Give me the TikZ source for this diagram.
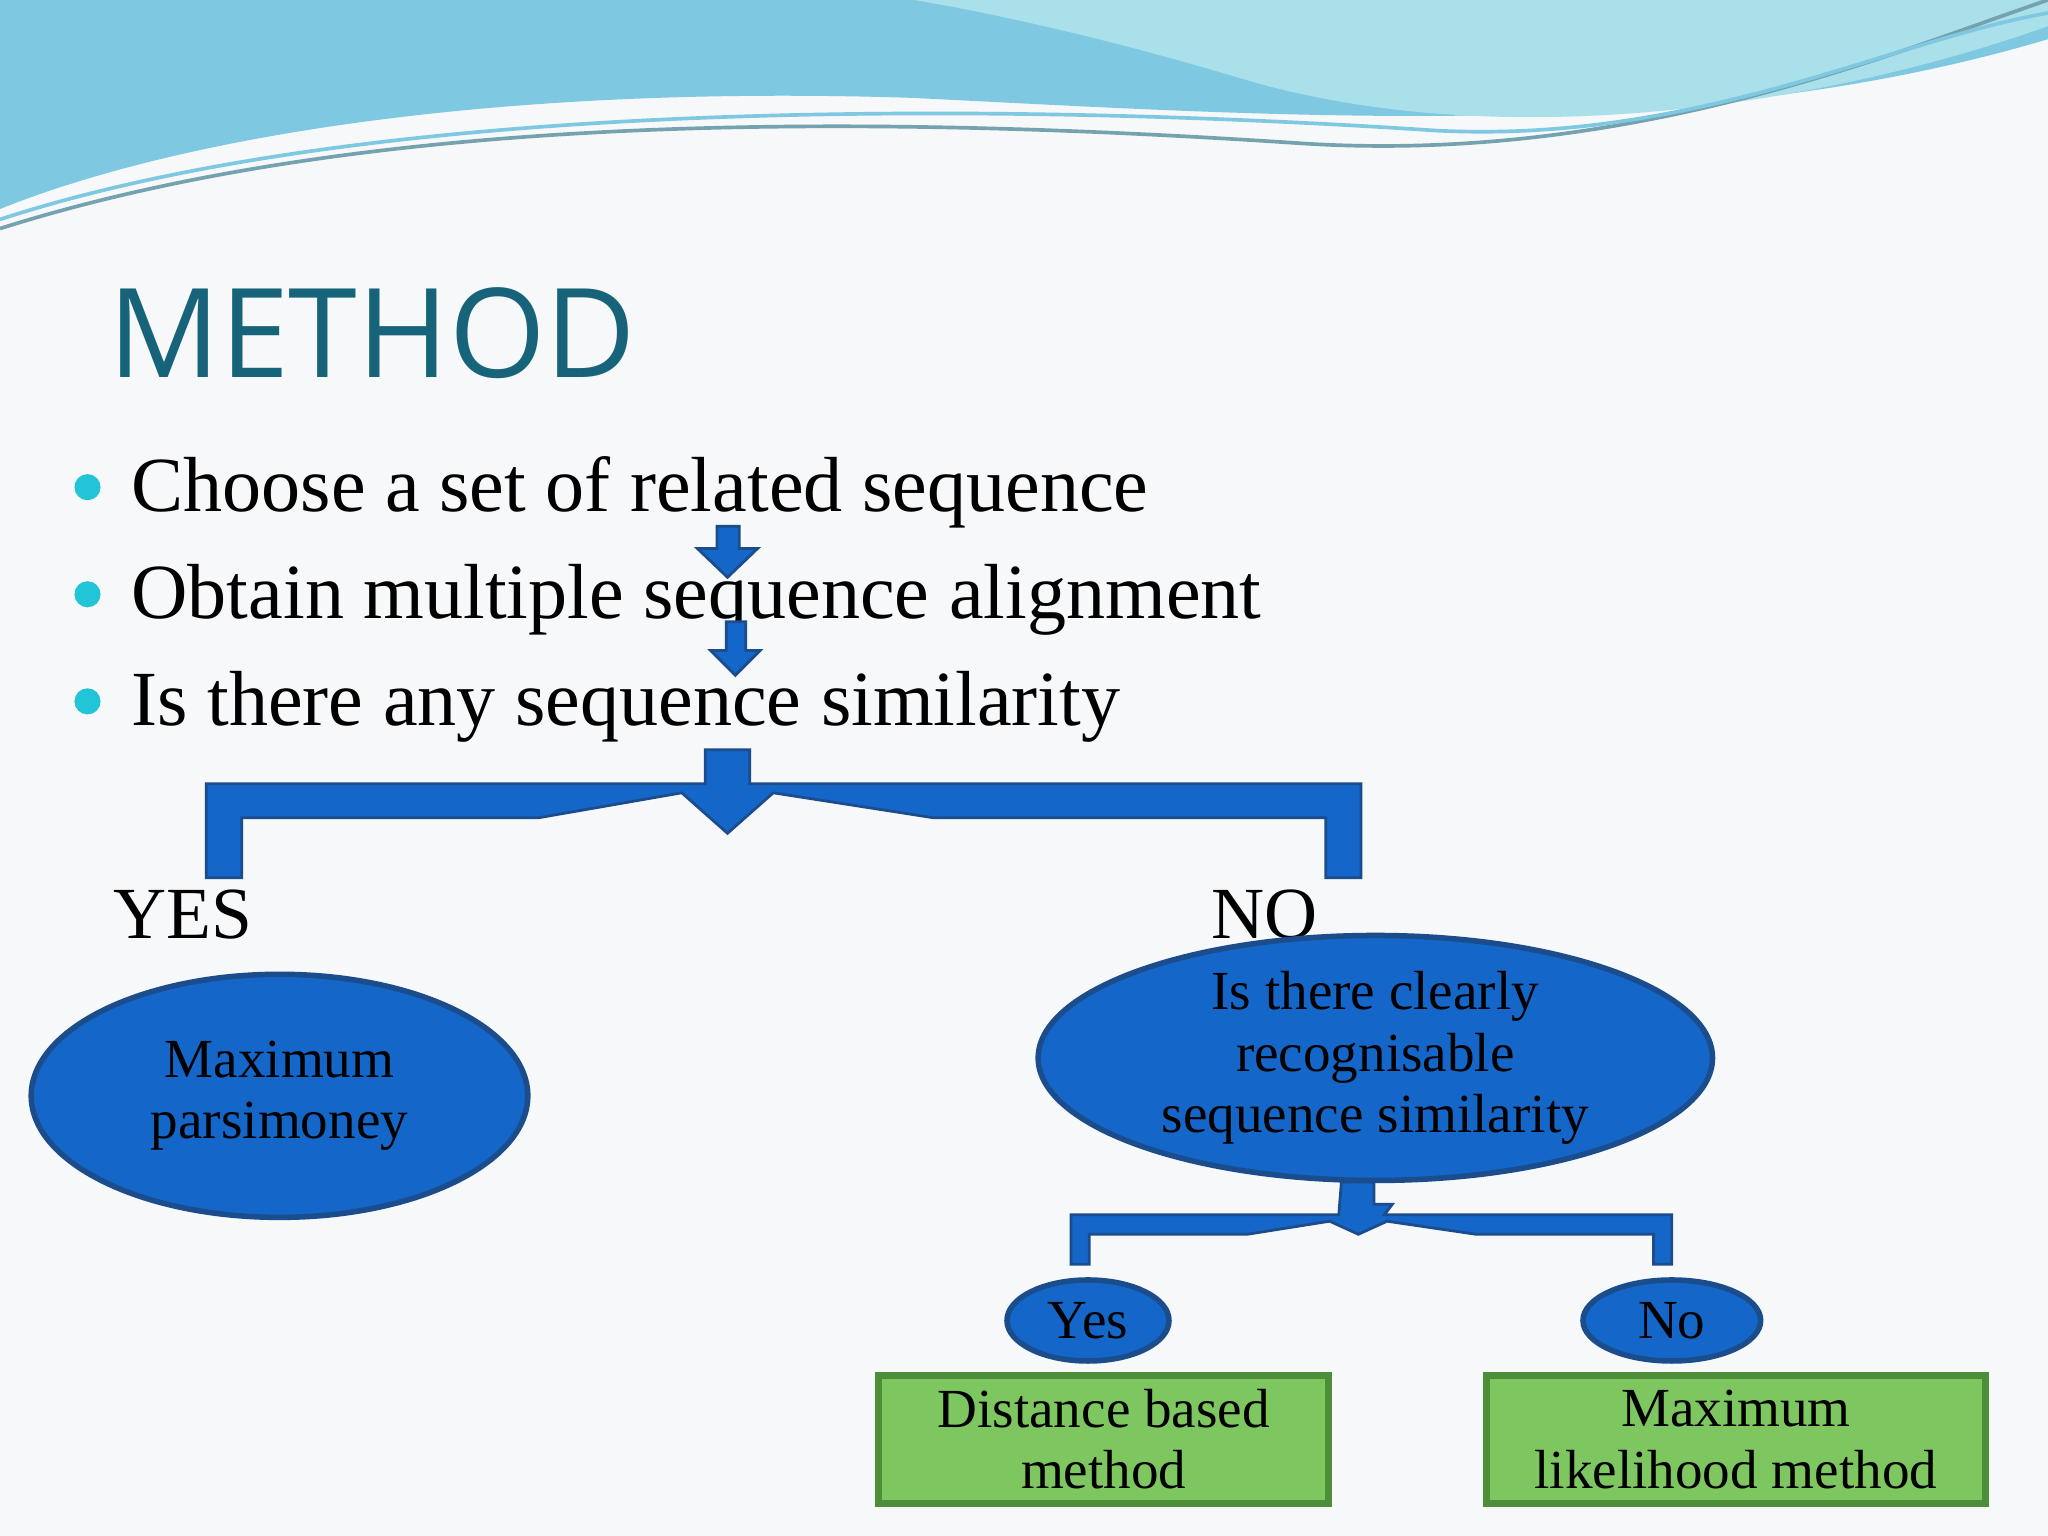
\documentclass[tikz,border=0pt]{standalone}
\usepackage{fontspec}
\setmainfont{Liberation Serif}
\newfontfamily\titlefont{Open Sans}
\usetikzlibrary{shapes.geometric}
\definecolor{bg}{HTML}{F7F8FA}
\definecolor{blu}{HTML}{1467C8}
\definecolor{bluedge}{HTML}{1B4C8C}
\definecolor{grn}{HTML}{7DC660}
\definecolor{grnedge}{HTML}{4D8F38}
\definecolor{ttl}{HTML}{17647A}
\definecolor{wave1}{HTML}{7FC8E2}
\definecolor{wave2}{HTML}{A9E0EA}
\definecolor{bul}{HTML}{22C4D8}
\begin{document}
\begin{tikzpicture}[x=0.01cm,y=-0.01cm,
  ell/.style={ellipse,fill=blu,draw=bluedge,line width=1.2pt,inner sep=0pt,align=center},
  box/.style={rectangle,fill=grn,draw=grnedge,line width=1.5pt,align=center,inner sep=0pt},
  arr/.style={fill=blu,draw=bluedge,line width=0.6pt},
  btxt/.style={font=\fontsize{17pt}{20pt}\selectfont,anchor=west},
  etxt/.style={font=\fontsize{12pt}{13.4pt}\selectfont}]
\useasboundingbox (0,0) rectangle (1568,1176);
\fill[bg] (0,0) rectangle (1568,1176);
% top wave
\fill[wave1] (0,0) -- (1568,0) -- (1568,30) .. controls (1300,110) and (1000,90) .. (700,75) .. controls (400,65) and (150,100) .. (0,160) -- cycle;
\fill[wave2] (700,0) -- (1568,0) -- (1568,20) .. controls (1400,80) and (1150,120) .. (950,60) .. controls (850,30) and (760,10) .. (700,0) -- cycle;
\draw[ttl!60,line width=0.8pt] (0,175) .. controls (300,80) and (700,90) .. (1000,110) .. controls (1250,125) and (1450,40) .. (1568,0);
\draw[wave1,line width=0.8pt] (0,168) .. controls (300,70) and (800,80) .. (1100,100) .. controls (1300,110) and (1450,30) .. (1568,10);
% title
\node[anchor=west,text=ttl,inner sep=0pt,font=\titlefont\fontsize{27pt}{32pt}\selectfont] (title) at (82,255) {METHOD};
% bullets
\foreach \y/\t/\n in {373/Choose a set of related sequence/b1,455/Obtain multiple sequence alignment/b2,537/Is there any sequence similarity/b3}{
  \fill[bul] (67,\y) circle (10);
  \node[btxt,inner sep=0pt] (\n) at (100,\y+4) {\t};
}
% small arrows
\path[arr] (549,403) -- (566,403) -- (566,420) -- (580,420) -- (557,442) -- (534,420) -- (549,420) -- cycle;
\path[arr] (556,476) -- (571,476) -- (571,498) -- (582,498) -- (563,517) -- (544,498) -- (556,498) -- cycle;
% big bracket
\path[arr] (158,672) -- (158,600) -- (540,600) -- (540,574) -- (574,574) -- (574,600) -- (1042,600) -- (1042,672) -- (1015,672) -- (1015,626) -- (714,626) -- (592,607) -- (557,638) -- (522,607) -- (413,626) -- (185,626) -- (185,672) -- cycle;
\node[font=\fontsize{16pt}{20pt}\selectfont] (yes) at (140,700) {YES};
\node[font=\fontsize{16pt}{20pt}\selectfont] (no) at (968,700) {NO};
% ellipses
\node[ell,etxt,minimum width=3.80cm,minimum height=1.86cm] (mp) at (214,839) {Maximum\\parsimoney};
\node[ell,etxt,minimum width=5.16cm,minimum height=1.70cm] (q) at (1053,810) {Is there clearly\\recognisable\\sequence similarity};
% small bracket
\path[arr] (820,968) -- (820,930) -- (1025,930) -- (1027,905) -- (1052,905) -- (1052,922) -- (1066,922) -- (1060,930) -- (1280,930) -- (1280,968) -- (1266,968) -- (1266,945) -- (1130,945) -- (1062,935) -- (1040,945) -- (1018,935) -- (955,945) -- (834,945) -- (834,968) -- cycle;
\node[ell,etxt,minimum width=1.24cm,minimum height=0.62cm] (y2) at (833,1011) {Yes};
\node[ell,etxt,minimum width=1.36cm,minimum height=0.62cm] (n2) at (1280,1011) {No};
\node[box,etxt,minimum width=3.44cm,minimum height=0.98cm] (d) at (845,1102) {Distance based\\method};
\node[box,etxt,minimum width=3.82cm,minimum height=0.98cm] (ml) at (1329,1102) {Maximum\\likelihood method};
\end{tikzpicture}
\end{document}
